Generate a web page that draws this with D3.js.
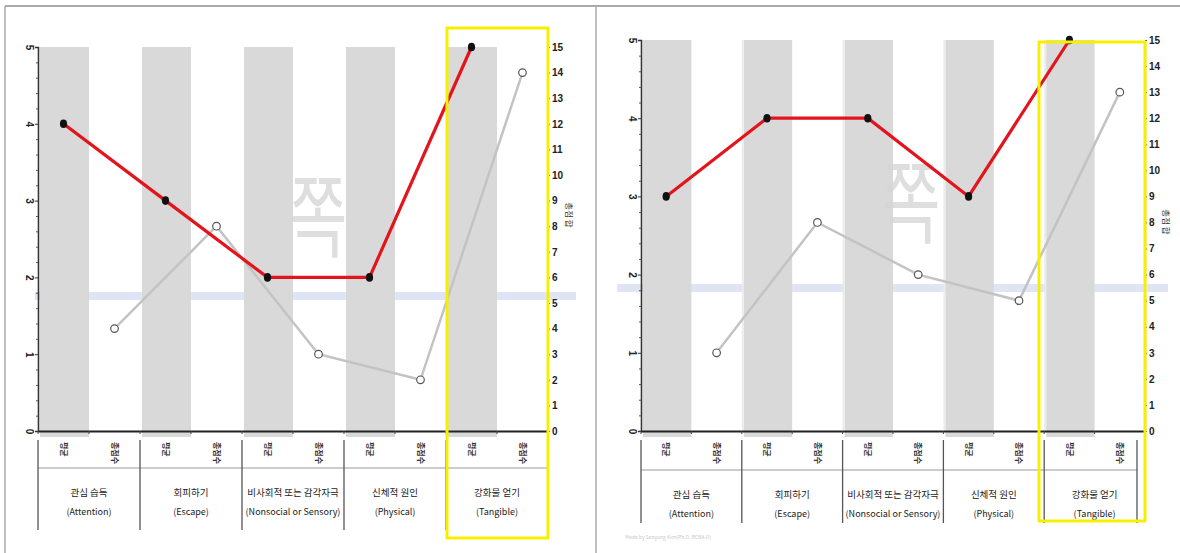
<!DOCTYPE html>
<html><head><meta charset="utf-8">
<script src="https://cdn.jsdelivr.net/npm/d3@7"></script>
<style>
html,body{margin:0;padding:0;background:#fff;}
svg{display:block;font-family:"Noto Sans CJK KR","Noto Sans",sans-serif;}
</style></head>
<body>
<svg id="chart" width="1180" height="553"></svg>
<script>
// ---- data ----
const categoriesKo = ["관심 습득", "회피하기", "비사회적 또는 감각자극", "신체적 원인", "강화물 얻기"];
const categoriesEn = ["(Attention)", "(Escape)", "(Nonsocial or Sensory)", "(Physical)", "(Tangible)"];
const subLabels = ["평균", "총점수"];
const meanLeft = [4, 3, 2, 2, 5];
const totalLeft = [4, 8, 3, 2, 14];
const meanRight = [3, 4, 4, 3, 5];
const totalRight = [3, 8, 6, 5, 13];
const leftTicks = [0, 1, 2, 3, 4, 5];
const rightTicks = [0,1,2,3,4,5,6,7,8,9,10,11,12,13,14,15];
const rightAxisTitle = "총점 합";
const footerText = "Made by Seoyung Kim(Ph.D. BCBA-D)";

const svg = d3.select("#chart");

// panel frames
svg.append("line").attr("x1",5).attr("x2",1180).attr("y1",6).attr("y2",6).attr("stroke","#aaa").attr("stroke-width",2);
svg.append("line").attr("x1",5).attr("x2",5).attr("y1",6).attr("y2",553).attr("stroke","#aaa").attr("stroke-width",1.5);
svg.append("line").attr("x1",596).attr("x2",596).attr("y1",6).attr("y2",553).attr("stroke","#aaa").attr("stroke-width",1.5);

function drawPanel(o){
  const g = svg.append("g");
  const slots = [];
  categoriesKo.forEach((c,i)=>{ slots.push(i+"m"); slots.push(i+"t"); });
  const x = d3.scaleBand().domain(slots).range([o.x0, o.x1]).padding(0);
  const bw = x.bandwidth();
  const yL = d3.scaleLinear().domain([0,5]).range([o.yBottom, o.yTop]);
  const yR = d3.scaleLinear().domain([0,15]).range([o.yBottom, o.yTop]);

  // blue band
  g.append("rect").attr("x",o.bandX0).attr("width",o.bandX1-o.bandX0)
    .attr("y",o.bandY-4).attr("height",8).attr("fill","#dfe5f4");

  // gray background columns
  g.selectAll("rect.col").data(categoriesKo).join("rect").attr("class","col")
    .attr("x",(d,i)=>x(i+"m")+2).attr("width",bw-2)
    .attr("y",yL(5)).attr("height",o.yBottom+6-yL(5))
    .attr("fill","#d9d9d9");
  if (o.faint){
    g.selectAll("line.fg").data(categoriesKo).join("line").attr("class","fg")
      .attr("x1",(d,i)=>x(i+"t")+bw+1).attr("x2",(d,i)=>x(i+"t")+bw+1)
      .attr("y1",yL(5)).attr("y2",o.yBottom).attr("stroke","#ececec").attr("stroke-width",2);
  }

  // watermark
  g.append("text").attr("x",o.wmX).attr("y",o.wmY).attr("text-anchor","middle")
    .attr("font-size",64).attr("font-weight",400).attr("fill","#d6d6d6").attr("opacity",0.8)
    .attr("transform",`translate(${o.wmX},${o.wmY}) scale(1,1.4) translate(${-o.wmX},${-o.wmY})`)
    .text("쪽");

  // left axis
  const axL = g.append("g").attr("transform",`translate(${o.x0},0)`)
    .call(d3.axisLeft(yL).tickValues(leftTicks).tickSize(3).tickFormat(d3.format("d")));
  axL.select(".domain").attr("stroke","#333").attr("stroke-width",1.6);
  axL.selectAll(".tick line").attr("stroke","#333");
  axL.selectAll(".tick text").attr("font-size",10).attr("font-weight",700).attr("fill","#222")
    .attr("x",-9).attr("text-anchor","middle")
    .attr("transform","rotate(90,-9,0)").attr("dy","0.35em");
  const minorL = d3.range(0,5.01,0.2).filter(v=>Math.abs(v-Math.round(v))>1e-6);
  g.append("g").attr("transform",`translate(${o.x0},0)`)
    .call(d3.axisLeft(yL).tickValues(minorL).tickSize(2).tickFormat(""))
    .call(s=>{s.select(".domain").remove(); s.selectAll("line").attr("stroke","#555");});

  // x axis baseline
  g.append("g").attr("transform",`translate(0,${o.yBottom})`)
    .call(d3.axisBottom(x).tickValues([]).tickSizeOuter(0))
    .call(s=>s.select(".domain").attr("stroke","#222").attr("stroke-width",2));
  g.selectAll("line.xt").data(slots).join("line").attr("class","xt")
    .attr("x1",d=>x(d)).attr("x2",d=>x(d)).attr("y1",o.yBottom).attr("y2",o.yBottom+3)
    .attr("stroke","#444");

  // right axis
  const axR = g.append("g").attr("transform",`translate(${o.x1},0)`)
    .call(d3.axisRight(yR).tickValues(rightTicks).tickSize(2).tickFormat(d3.format("d")));
  axR.select(".domain").attr("stroke","#333");
  axR.selectAll(".tick line").attr("stroke","#333");
  axR.selectAll(".tick text").attr("font-size",10).attr("font-weight",700).attr("fill","#222").attr("x",4);
  g.append("text").attr("transform",`translate(${o.x1+18},${o.rtY}) rotate(90)`)
    .attr("font-size",8.5).attr("fill","#333").attr("text-anchor","middle").text(rightAxisTitle);

  // table below
  const tTop = o.yBottom + 9, tMid = o.tableMid, tBot = o.tableBot;
  g.append("line").attr("x1",o.x0).attr("x2",o.tableX1).attr("y1",tMid).attr("y2",tMid)
    .attr("stroke","#999").attr("stroke-width",1.2);
  const bounds = categoriesKo.map((c,i)=>x(i+"m")).concat([o.tableX1]);
  g.selectAll("line.vb").data(bounds).join("line").attr("class","vb")
    .attr("x1",d=>d).attr("x2",d=>d).attr("y1",tTop).attr("y2",tBot)
    .attr("stroke","#555").attr("stroke-width",1.3);
  g.selectAll("text.sub").data(slots).join("text").attr("class","sub")
    .attr("transform",d=>`translate(${x(d)+bw/2},${tTop+2}) rotate(90)`)
    .attr("dy","0.35em").attr("font-size",8).attr("font-weight",700).attr("fill","#333")
    .text(d=>d.endsWith("m")?subLabels[0]:subLabels[1]);
  g.selectAll("text.cko").data(categoriesKo).join("text").attr("class","cko")
    .attr("x",(d,i)=>x(i+"m")+bw).attr("y",tMid+28).attr("text-anchor","middle")
    .attr("font-size",9.5).attr("fill","#222").text(d=>d);
  g.selectAll("text.cen").data(categoriesEn).join("text").attr("class","cen")
    .attr("x",(d,i)=>x(i+"m")+bw).attr("y",tMid+47).attr("text-anchor","middle")
    .attr("font-size",9).attr("fill","#222").text(d=>d);

  // gray total line
  const lineR = d3.line().x((d,i)=>x(i+"t")+bw/2).y(d=>yR(d));
  g.append("path").datum(o.total).attr("d",lineR).attr("fill","none")
    .attr("stroke","#c3c3c3").attr("stroke-width",2.5);
  g.selectAll("circle.tp").data(o.total).join("circle").attr("class","tp")
    .attr("cx",(d,i)=>x(i+"t")+bw/2).attr("cy",d=>yR(d)).attr("r",3.8)
    .attr("fill","#fff").attr("stroke","#555").attr("stroke-width",1.2);

  // red mean line
  const lineL = d3.line().x((d,i)=>x(i+"m")+bw/2).y(d=>yL(d));
  g.append("path").datum(o.mean).attr("d",lineL).attr("fill","none")
    .attr("stroke","#e3141c").attr("stroke-width",3.2);
  g.selectAll("ellipse.mp").data(o.mean).join("ellipse").attr("class","mp")
    .attr("cx",(d,i)=>x(i+"m")+bw/2).attr("cy",d=>yL(d)).attr("rx",3.6).attr("ry",4.3)
    .attr("fill","#111");

  // yellow highlight
  g.append("rect").attr("x",o.hx0).attr("y",o.hy0).attr("width",o.hx1-o.hx0).attr("height",o.hy1-o.hy0)
    .attr("fill","none").attr("stroke","#f7ef00").attr("stroke-width",3);
  return {x, yL, yR};
}

drawPanel({x0:38, x1:548, yTop:47, yBottom:431, mean:meanLeft, total:totalLeft,
  bandX0:35, bandX1:576, bandY:296, wmX:318, wmY:250, rtY:215,
  tableMid:468, tableBot:530, tableX1:548,
  hx0:447, hx1:548, hy0:28, hy1:538, faint:false});

drawPanel({x0:641, x1:1145, yTop:40, yBottom:431, mean:meanRight, total:totalRight,
  bandX0:617, bandX1:1168, bandY:288, wmX:911, wmY:236, rtY:222,
  tableMid:470, tableBot:523, tableX1:1137,
  hx0:1039, hx1:1145, hy0:42, hy1:521, faint:true});

svg.append("text").attr("x",625).attr("y",539).attr("font-size",5).attr("fill","#c8c8c8").text(footerText);
</script>
</body></html>
